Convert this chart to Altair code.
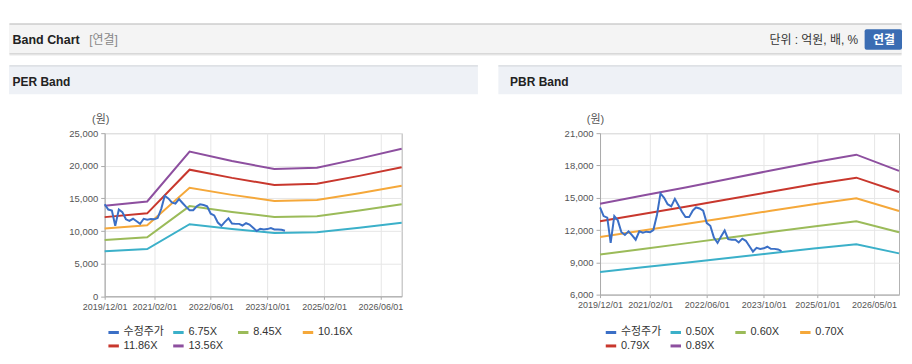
import altair as alt
import pandas as pd

# ---------------- data ----------------
band_dates = ["2019-12-01", "2020-12-01", "2021-12-01", "2022-12-01",
              "2023-12-01", "2024-12-01", "2025-12-01", "2026-12-01"]

# adjusted price (monthly, from 2019/12)
price = [14100, 13300, 13150, 10800, 13300, 12900, 11800, 11550, 11880, 11500,
         11100, 11880, 11750, 11850, 11800, 12000, 13400, 15400, 15000, 14400,
         14200, 14900, 14300, 13700, 13200, 13200, 13800, 14100, 14000, 13800,
         12650, 12400, 11300, 10800, 11400, 11950, 11150, 11100, 11100, 10850,
         11200, 11000, 10500, 10000, 10350, 10250, 10300, 10450, 10250, 10250,
         10200, 10050]

per_names = ["6.75X", "8.45X", "10.16X", "11.86X", "13.56X"]
per_675 = [6905, 7236, 11043, 10328, 9707, 9808, 10503, 11259]
per_845 = [8644, 9058, 13824, 12929, 12151, 12278, 13148, 14095]
per_1016 = [10394, 10892, 16622, 15545, 14610, 14762, 15809, 16947]
per_1186 = [12133, 12714, 19403, 18146, 17055, 17233, 18454, 19782]
per_1356 = [13872, 14536, 22184, 20747, 19499, 19703, 21099, 22618]

pbr_names = ["0.50X", "0.60X", "0.70X", "0.79X", "0.89X"]
pbr_050 = [8112, 8539, 8966, 9404, 9848, 10281, 10674, 9831]
pbr_060 = [9735, 10247, 10760, 11285, 11818, 12337, 12809, 11798]
pbr_070 = [11357, 11955, 12553, 13166, 13788, 14393, 14944, 13764]
pbr_079 = [12818, 13492, 14167, 14859, 15561, 16244, 16865, 15534]
pbr_089 = [14440, 15200, 15960, 16740, 17530, 18300, 19000, 17500]

price_name = "수정주가"
per_yticks = [0, 5000, 10000, 15000, 20000, 25000]
pbr_yticks = [6000, 9000, 12000, 15000, 18000, 21000]
per_xticks = [(2019, 12), (2021, 2), (2022, 6), (2023, 10), (2025, 2), (2026, 6)]
pbr_xticks = [(2019, 12), (2021, 2), (2022, 6), (2023, 10), (2025, 1), (2026, 5)]
x_domain = [(2019, 12), (2026, 12)]

colors = ["#3b6fc6", "#3bb0c9", "#9bbb59", "#f5a83a", "#c8372d", "#8d4f9f"]

FONT = "Liberation Sans, Noto Sans CJK KR, sans-serif"

price_dates = [d.strftime("%Y-%m-%d")
               for d in pd.date_range("2019-12-01", periods=len(price), freq="MS")]


def long_df(names, bands):
    rows = []
    for name, vals in zip(names, bands):
        for d, v in zip(band_dates, vals):
            rows.append({"date": d, "value": v, "series": name})
    for d, v in zip(price_dates, price):
        rows.append({"date": d, "value": v, "series": price_name})
    return pd.DataFrame(rows)


def dt(ym):
    return alt.DateTime(year=ym[0], month=ym[1], date=1, utc=True)


def panel(df, names, ydom, yticks, xticks, width, height, legend_x, title_x):
    return alt.Chart(df).mark_line(strokeWidth=2).encode(
        x=alt.X("date:T",
                scale=alt.Scale(type="utc", domain=[dt(v) for v in x_domain]),
                axis=alt.Axis(values=[dt(v) for v in xticks], format="%Y/%m/%d",
                              labelFontSize=9, labelColor="#555", labelFont=FONT,
                              tickSize=3, tickColor="#aaa", domainColor="#aaa",
                              gridColor="#e6e6e6", labelPadding=3,
                              labelOverlap=False, labelFlush=False, title=None)),
        y=alt.Y("value:Q",
                scale=alt.Scale(domain=ydom, nice=False, zero=False),
                axis=alt.Axis(values=yticks, format=",d", labelFontSize=9.5,
                              labelColor="#555", labelFont=FONT, tickSize=4,
                              tickColor="#aaa", domainColor="#aaa",
                              gridColor="#e6e6e6", labelPadding=3,
                              title="(원)", titleAngle=0, titleAlign="center",
                              titleBaseline="middle", titleX=title_x, titleY=-14,
                              titleFontWeight="normal", titleFontSize=11,
                              titleColor="#555", titleFont=FONT)),
        color=alt.Color("series:N",
                        scale=alt.Scale(domain=[price_name] + names, range=colors),
                        legend=alt.Legend(title=None, orient="none", legendX=legend_x,
                                          legendY=193, direction="horizontal",
                                          columns=4, symbolType="stroke",
                                          symbolSize=110, symbolStrokeWidth=3,
                                          labelFontSize=11, labelFont=FONT,
                                          labelColor="#333", columnPadding=2,
                                          rowPadding=0.5, gridAlign="all",
                                          labelOffset=3)),
    ).properties(width=width, height=height)


# ---------------- decorations (page-pixel layout, relative to left plot) ----------------
OX, OY = 104, 132
RIGHT = 904  # page width minus body margins
one = alt.Data(values=[{}])


def box(x1, y1, x2, y2, fill, radius=0):
    return alt.Chart(one).mark_rect(fill=fill, cornerRadius=radius).encode(
        x=alt.value(x1 - OX), x2=alt.value(x2 - OX),
        y=alt.value(y1 - OY), y2=alt.value(y2 - OY))


def hline(x1, x2, y, color):
    return alt.Chart(one).mark_rule(color=color, strokeWidth=1).encode(
        x=alt.value(x1 - OX), x2=alt.value(x2 - OX), y=alt.value(y - OY))


def label(x, y, txt, size=12, weight="normal", color="#222", align="left"):
    return alt.Chart(one).mark_text(fontSize=size, fontWeight=weight, color=color,
                                    align=align, baseline="middle", font=FONT).encode(
        x=alt.value(x - OX), y=alt.value(y - OY), text=alt.value(txt))


deco = [
    box(8, 8, RIGHT, 22, "white"),
    box(8, 22, RIGHT, 52.5, "#f4f4f4"),
    hline(8.5, RIGHT - 0.5, 22.5, "#b9b9b9"),
    hline(8.5, RIGHT - 0.5, 52.5, "#c4c4c4"),
    hline(8.5, RIGHT - 0.5, 53.5, "#e3e3e3"),
    label(11.6, 38.3, "Band Chart", size=12.5, weight="bold"),
    label(88.4, 38.3, "[연결]", size=12, color="#888"),
    label(860, 38.3, "단위 : 억원, 배, %", size=12, color="#333", align="right"),
    box(866.5, 27.7, RIGHT, 48.3, "#3b6db3", radius=2),
    label(886, 38.3, "연결", size=12, weight="bold", color="white", align="center"),
    box(8, 64, 478.5, 93, "#eef1f6"),
    box(499, 64, RIGHT, 93, "#eef1f6"),
    hline(8.5, 478.5, 64.5, "#cfd3d8"),
    hline(499, RIGHT - 0.5, 64.5, "#cfd3d8"),
    label(11.6, 80.7, "PER Band", size=12, weight="bold"),
    label(510.8, 80.7, "PBR Band", size=12, weight="bold"),
]

per_df = long_df(per_names, [per_675, per_845, per_1016, per_1186, per_1356])
pbr_df = long_df(pbr_names, [pbr_050, pbr_060, pbr_070, pbr_079, pbr_089])

left = alt.layer(*deco,
                 panel(per_df, per_names, [0, 25000], per_yticks, per_xticks,
                       298, 163.7, 2, -4.5))
right = panel(pbr_df, pbr_names, [6000, 21000], pbr_yticks, pbr_xticks,
              300, 162, 4, -5)

chart = alt.hconcat(left, right, spacing=199, bounds="flush").resolve_scale(
    color="independent", x="independent", y="independent"
).properties(padding=0).configure(
    font=FONT, background="white"
).configure_view(stroke="#b3b3b3", strokeWidth=1)

chart.save("out.html", embed_options={"renderer": "svg", "actions": False})
